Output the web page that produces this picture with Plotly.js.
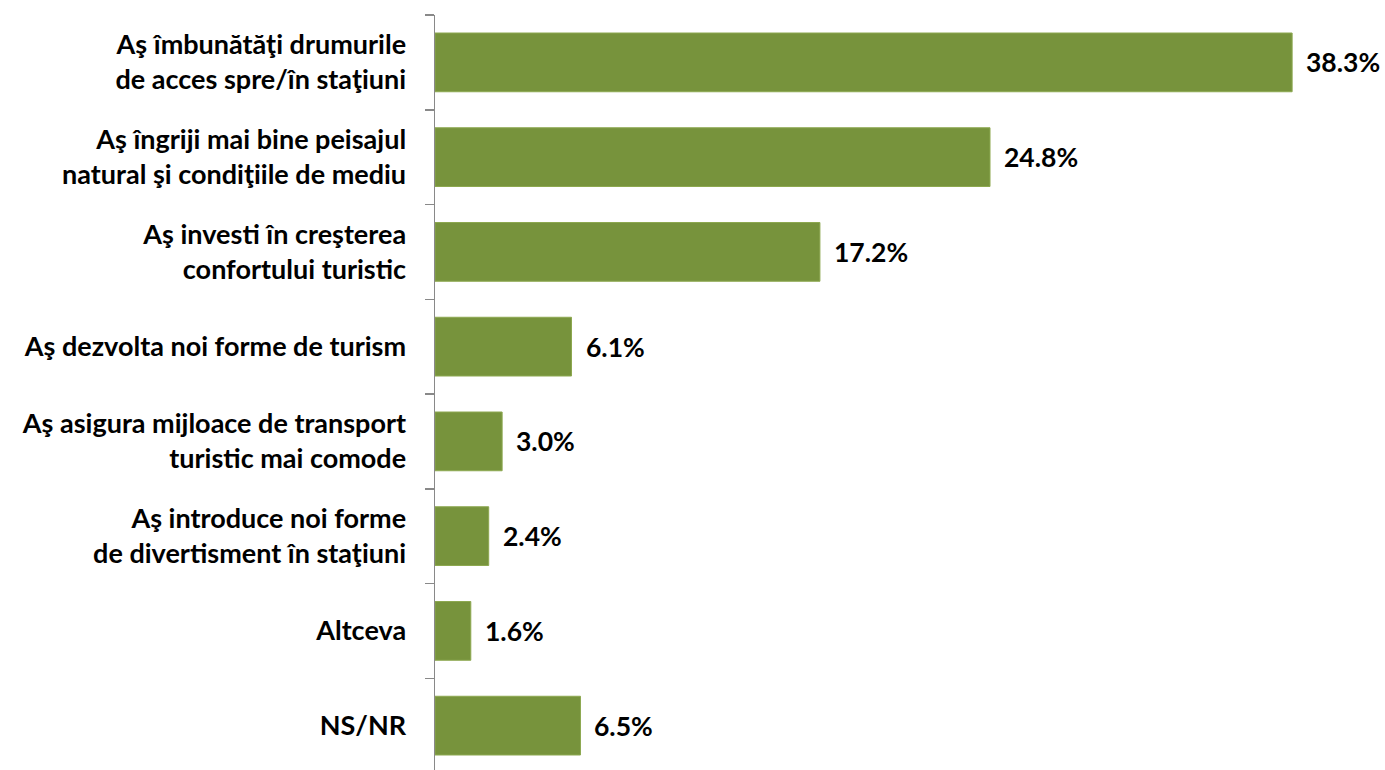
<!DOCTYPE html>
<html>
<head>
<meta charset="utf-8">
<script src="https://cdn.plot.ly/plotly-3.0.1.min.js"></script>
<style>
html,body{margin:0;padding:0;overflow:hidden;background:#fff;}
#chart{width:1385px;height:773px;}
</style>
</head>
<body>
<div id="chart"></div>
<script>
const categories = [
  "Aş îmbunătăţi drumurile<br>de acces spre/în staţiuni",
  "Aş îngriji mai bine peisajul<br>natural şi condiţiile de mediu",
  "Aş investi în creşterea<br>confortului turistic",
  "Aş dezvolta noi forme de turism",
  "Aş asigura mijloace de transport<br>turistic mai comode",
  "Aş introduce noi forme<br>de divertisment în staţiuni",
  "Altceva",
  "NS/NR"
];
const values = [38.3, 24.8, 17.2, 6.1, 3.0, 2.4, 1.6, 6.5];
const valueLabels = values.map(v => v.toFixed(1) + "%");

const FONT = "Lato, 'Open Sans', sans-serif";

const trace = {
  type: "bar",
  orientation: "h",
  x: values,
  y: categories,
  marker: {color: "#77933C", line: {color: "#8DA850", width: 1}},
  hoverinfo: "none"
};

const annotations = values.map((v, i) => ({
  x: v, y: categories[i], xref: "x", yref: "y",
  text: "<b>" + valueLabels[i] + "</b>",
  showarrow: false, xanchor: "left", yanchor: "middle", xshift: 12,
  font: {family: FONT, size: 26.5, color: "#000"}
}));

const layout = {
  width: 1385, height: 773,
  margin: {l: 435, r: 0, t: 15, b: 0, pad: 0},
  paper_bgcolor: "#fff", plot_bgcolor: "#fff",
  showlegend: false,
  bargap: 0.38,
  xaxis: {range: [0, 42.45], visible: false, showgrid: false, zeroline: false, fixedrange: true},
  yaxis: {
    type: "category",
    autorange: "reversed",
    showline: true, linecolor: "#898989", linewidth: 1.5,
    ticks: "outside", tickson: "boundaries", ticklen: 9, tickcolor: "#898989", tickwidth: 1.5,
    showgrid: false, zeroline: false,
    ticklabelstandoff: 22,
    tickfont: {family: FONT, size: 27, color: "#000", weight: "bold"},
    fixedrange: true
  },
  annotations: annotations
};

Plotly.newPlot("chart", [trace], layout, {displayModeBar: false, staticPlot: true});
</script>
</body>
</html>
